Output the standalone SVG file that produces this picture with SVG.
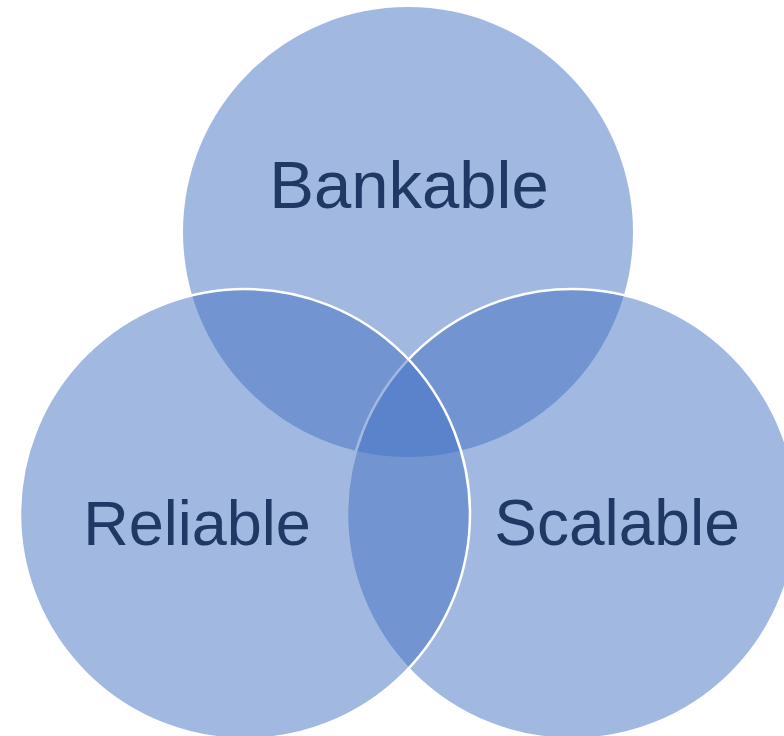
<svg xmlns="http://www.w3.org/2000/svg" width="784" height="736" viewBox="0 0 784 736">
<style>
.c{fill:#4472C4;fill-opacity:0.5}
.s{stroke:#FFFFFF;stroke-width:2.5}
.t{font-family:"Liberation Sans",Arial,sans-serif;fill:#1F3864;text-anchor:middle}
</style>
<rect width="784" height="736" fill="#FFFFFF"/>
<g id="bankable">
<circle class="c" cx="408" cy="232" r="225"/>
</g>
<g id="scalable">
<circle class="c s" cx="572" cy="514" r="225"/>
</g>
<g id="reliable">
<circle class="c s" cx="245" cy="514" r="225"/>
</g>
<g id="connectors"></g>
<g id="labels">
<text class="t" x="409" y="208" font-size="67">Bankable</text>
<text class="t" x="197" y="545" font-size="63">Reliable</text>
<text class="t" x="617" y="545" font-size="64">Scalable</text>
</g>
</svg>
